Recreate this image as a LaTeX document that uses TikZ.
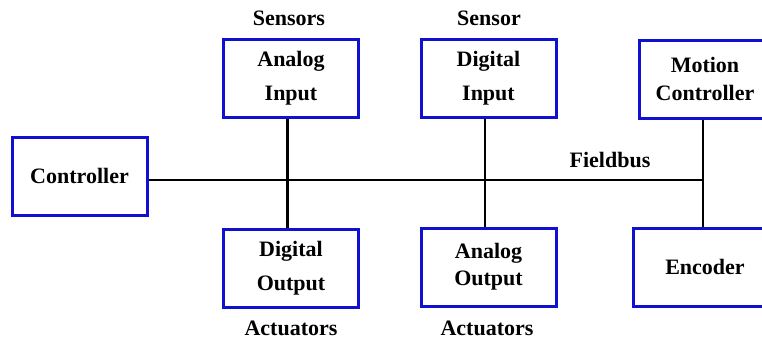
\documentclass[tikz,border=0pt]{standalone}
\usepackage{fontspec}
\setmainfont{Liberation Serif}
\usetikzlibrary{positioning}
\definecolor{boxblue}{RGB}{16,16,208}

\begin{document}
\begin{tikzpicture}[
  x=0.5pt, y=-0.5pt,
  unit/.style={draw=boxblue, line width=1.5pt, minimum width=67.5pt,
    minimum height=39pt, align=center, inner sep=0pt,
    font=\bfseries\fontsize{11}{17}\selectfont},
  tag/.style={font=\bfseries\fontsize{11}{13}\selectfont, inner sep=0pt},
  bus/.style={line width=1.3pt}
  ]
\useasboundingbox (0,0) rectangle (762,339);
% field devices
\node[unit] (ctrl) at (79.5,176) {Controller};
\node[unit] (ain) at (291,78) {Analog\\Input};
\node[unit] (dout) at (291,268) {Digital\\Output};
\node[unit] (din) at (488.5,78) {Digital\\Input};
\node[unit, font=\bfseries\fontsize{11}{13.3}\selectfont] (aout) at (488.5,267) {Analog\\Output};
\node[unit, minimum width=66pt, font=\bfseries\fontsize{11}{14}\selectfont] (motion) at (705,79) {Motion\\Controller};
\node[unit, minimum width=72pt] (enc) at (705,267) {Encoder};
% group labels
\node[tag] (sens) at (289,18) {Sensors};
\node[tag] (sen) at (489,18) {Sensor};
\node[tag] (act1) at (291,328) {Actuators};
\node[tag] (act2) at (487,328) {Actuators};
\node[tag] (fb) at (610,160) {Fieldbus};
% bus
\coordinate (tap) at (703,180);
\draw[bus] (ctrl.east |- tap) -- (tap);
\draw[bus] ([xshift=-1.8pt]ain.south) -- ([xshift=-1.8pt]dout.north);
\draw[bus] ([xshift=-1.8pt]din.south) -- ([xshift=-1.8pt]aout.north);
\draw[bus] (motion.south -| tap) -- (enc.north -| tap);
\end{tikzpicture}
\end{document}
